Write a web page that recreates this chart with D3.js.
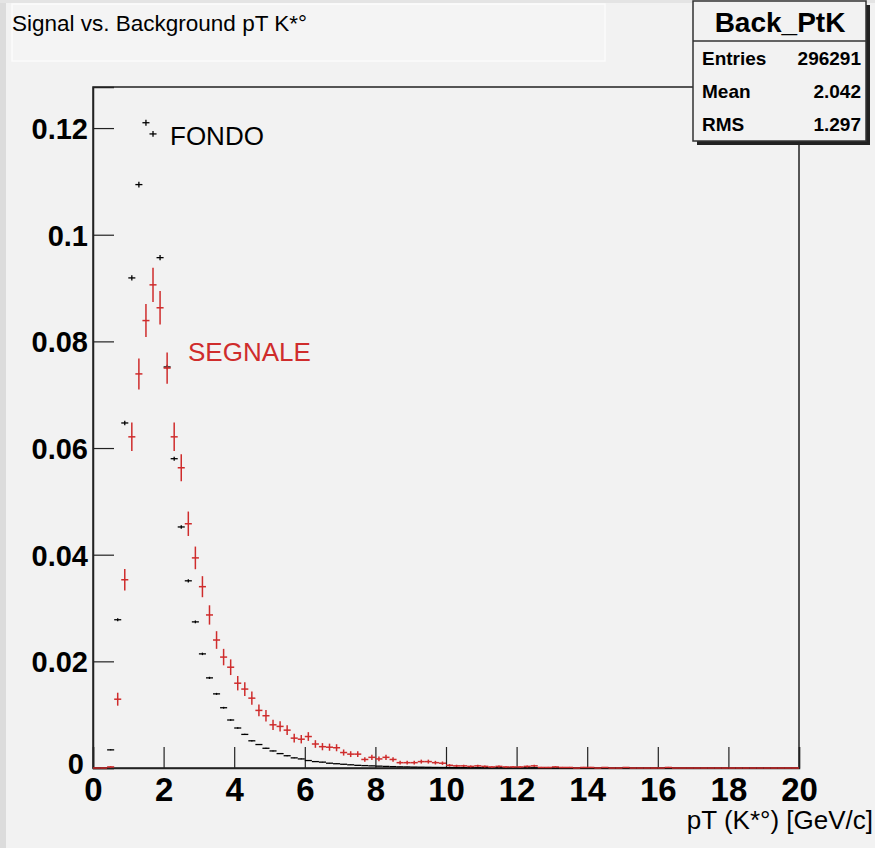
<!DOCTYPE html>
<html>
<head>
<meta charset="UTF-8">
<script src="https://d3js.org/d3.v7.min.js"></script>
<style>
    body { margin: 0; background: #f2f2f2; }
    svg { display: block; font-family: "Liberation Sans", Arial, sans-serif; }
    .xaxis text { font-size: 33px; font-weight: bold; fill: #000; }
    .yaxis text { font-size: 29px; font-weight: bold; fill: #000; }
    .axis path, .axis line { stroke: #222; }
</style>
</head>
<body>
<svg width="875" height="848"></svg>
<script>
    // bin centres, width 0.2, range 0..20
    const binWidth = 0.2;
    const binCenters = d3.range(100).map(i => +(0.1 + i * binWidth).toFixed(1));

    // background (black, "FONDO")
    const background = [
        0, 0, 0.0034, 0.0278, 0.0647, 0.0919, 0.1094, 0.1210, 0.1189, 0.0957,
        0.0752, 0.0580, 0.0452, 0.0351, 0.0274, 0.0214, 0.0169, 0.0139, 0.0113, 0.0090,
        0.0075, 0.0063, 0.0051, 0.0044, 0.0037, 0.0032, 0.0027, 0.0023, 0.0019, 0.0017,
        0.0014, 0.0012, 0.0011, 0.0009, 0.0008, 0.0007, 0.0006, 0.0005, 0.00045, 0.0004,
        0.00035, 0.0003, 0.00026, 0.00022, 0.0002, 0.00017, 0.00015, 0.00013, 0.00011, 0.0001,
        0.00009, 0.00008, 0.00007, 0.00006, 0.00005, 0.00005, 0.00004, 0.00004, 0.00003, 0.00003,
        0.00002, 0.00002, 0.00002, 0.00001, 0.00001, 0.00001, 0.00001, 0, 0, 0,
        0, 0, 0, 0, 0, 0, 0, 0, 0, 0,
        0, 0, 0, 0, 0, 0, 0, 0, 0, 0,
        0, 0, 0, 0, 0, 0, 0, 0, 0, 0
    ];

    // signal (red, "SEGNALE")
    const signal = [
        0, 0, 0.0002, 0.0129, 0.0353, 0.0621, 0.0739, 0.0839, 0.0906, 0.0863,
        0.0750, 0.0621, 0.0563, 0.0458, 0.0394, 0.0340, 0.0287, 0.0240, 0.0208, 0.0189,
        0.0159, 0.0148, 0.0131, 0.0108, 0.0098, 0.0081, 0.0078, 0.0071, 0.0056, 0.0054,
        0.0059, 0.0045, 0.0040, 0.0039, 0.0038, 0.0029, 0.0026, 0.0026, 0.0016, 0.0020,
        0.0017, 0.0020, 0.0016, 0.0010, 0.0010, 0.0010, 0.0012, 0.0012, 0.0010, 0.0009,
        0.0005, 0.0004, 0.0004, 0.0003, 0.0004, 0.0003, 0.0002, 0.0003, 0.0002, 0.0002,
        0.0002, 0.0003, 0.0004, 0.0001, 0.0001, 0.0002, 0.0001, 0.0001, 0, 0.0001,
        0.0001, 0, 0.0001, 0, 0, 0.0001, 0, 0, 0, 0,
        0, 0.0001, 0, 0, 0, 0, 0, 0, 0, 0,
        0, 0, 0, 0, 0, 0, 0, 0, 0, 0
    ];

    // error scale factors (sqrt(N) statistics)
    const sigErrK = 0.0107;
    const bkgErrK = 0.0016;

    const xTicks = d3.range(0, 21, 2);
    const yTicks = [0, 0.02, 0.04, 0.06, 0.08, 0.1, 0.12];

    const stats = [["Entries", "296291"], ["Mean", "2.042"], ["RMS", "1.297"]];

    const svg = d3.select("svg");
    const red = "#cf2c2c";

    // page background strips
    svg.append("rect").attr("x", 0).attr("y", 0).attr("width", 875).attr("height", 848).attr("fill", "#f2f2f2");
    svg.append("rect").attr("x", 0).attr("y", 0).attr("width", 6).attr("height", 848).attr("fill", "#dcdcdc");
    svg.append("rect").attr("x", 0).attr("y", 0).attr("width", 875).attr("height", 3).attr("fill", "#e4e4e4");

    const x = d3.scaleLinear().domain([0, 20]).range([93, 799]);
    const y = d3.scaleLinear().domain([0, 0.1277]).range([768, 87]);

    // frame
    svg.append("rect")
        .attr("x", x(0)).attr("y", y(0.1277))
        .attr("width", x(20) - x(0)).attr("height", y(0) - y(0.1277))
        .attr("fill", "none").attr("stroke", "#222").attr("stroke-width", 1.5);

    // x axis
    const gx = svg.append("g").attr("class", "axis xaxis").attr("transform", `translate(0,${y(0)})`);
    gx.call(d3.axisBottom(x).tickValues(d3.range(0, 20.01, 0.5)).tickSize(-11).tickFormat(""));
    gx.call(d3.axisBottom(x).tickValues(xTicks).tickSize(-21).tickPadding(10).tickFormat(d3.format("d")));
    gx.selectAll(".domain").attr("stroke-width", 1.5);
    gx.selectAll("line").attr("stroke-width", 1.2);

    // y axis
    const gy = svg.append("g").attr("class", "axis yaxis").attr("transform", `translate(${x(0)},0)`);
    gy.call(d3.axisLeft(y).tickValues(d3.range(0, 0.1276, 0.005)).tickSize(-10).tickFormat(""));
    gy.call(d3.axisLeft(y).tickValues(yTicks).tickSize(-21).tickPadding(5).tickFormat(d => d === 0 ? "0" : String(+d.toFixed(2))));
    gy.selectAll(".domain").attr("stroke-width", 1.5);
    gy.selectAll("line").attr("stroke-width", 1.2);
    gy.selectAll("text").attr("dy", "0.36em");
    // keep the "0" of the y axis clear of the x axis "0"
    gy.selectAll(".tick").filter(d => d === 0).select("text").attr("dy", "0.2em").attr("x", -9);

    function drawHist(values, errK, color, width) {
        const g = svg.append("g").attr("stroke", color).attr("stroke-width", width);
        const bins = values.map((v, i) => ({ c: binCenters[i], v }));
        g.selectAll("line.h")
            .data(bins)
            .join("line")
            .attr("class", "h")
            .attr("x1", d => x(d.c - binWidth / 2)).attr("x2", d => x(d.c + binWidth / 2))
            .attr("y1", d => y(d.v)).attr("y2", d => y(d.v));
        g.selectAll("line.v")
            .data(bins.filter(d => d.v > 0))
            .join("line")
            .attr("class", "v")
            .attr("x1", d => x(d.c)).attr("x2", d => x(d.c))
            .attr("y1", d => y(Math.max(0, d.v - errK * Math.sqrt(d.v))))
            .attr("y2", d => y(d.v + errK * Math.sqrt(d.v)));
    }
    drawHist(background, bkgErrK, "#000", 1.3);
    drawHist(signal, sigErrK, red, 1.5);

    // labels
    svg.append("text").attr("x", 170).attr("y", 145).attr("font-size", 26).attr("fill", "#000").text("FONDO");
    svg.append("text").attr("x", 188).attr("y", 361).attr("font-size", 26).attr("fill", red).text("SEGNALE");

    // axis title
    svg.append("text").attr("x", 873).attr("y", 829).attr("text-anchor", "end")
        .attr("font-size", 26).attr("fill", "#000").text("pT (K*°) [GeV/c]");

    // title box
    svg.append("rect").attr("x", 12).attr("y", 4).attr("width", 593).attr("height", 57)
        .attr("fill", "#f4f4f4").attr("stroke", "#fbfbfb").attr("stroke-width", 1.5);
    svg.append("text").attr("x", 12).attr("y", 31).attr("font-size", 22.5).attr("fill", "#000")
        .text("Signal vs. Background pT K*°");

    // stats box
    const sb = svg.append("g");
    sb.append("rect").attr("x", 697).attr("y", 5).attr("width", 173).attr("height", 140).attr("fill", "#222");
    sb.append("rect").attr("x", 693).attr("y", 1).attr("width", 173).attr("height", 140)
        .attr("fill", "#f2f2f2").attr("stroke", "#333").attr("stroke-width", 1.5);
    sb.append("line").attr("x1", 693).attr("x2", 866).attr("y1", 41).attr("y2", 41)
        .attr("stroke", "#333").attr("stroke-width", 1.5);
    sb.append("text").attr("x", 780).attr("y", 32).attr("text-anchor", "middle")
        .attr("font-size", 28).attr("font-weight", "bold").text("Back_PtK");
    stats.forEach((s, i) => {
        const by = 65 + i * 33;
        sb.append("text").attr("x", 702).attr("y", by).attr("font-size", 19).attr("font-weight", "bold").text(s[0]);
        sb.append("text").attr("x", 861).attr("y", by).attr("text-anchor", "end")
            .attr("font-size", 19).attr("font-weight", "bold").text(s[1]);
    });
</script>
</body>
</html>
